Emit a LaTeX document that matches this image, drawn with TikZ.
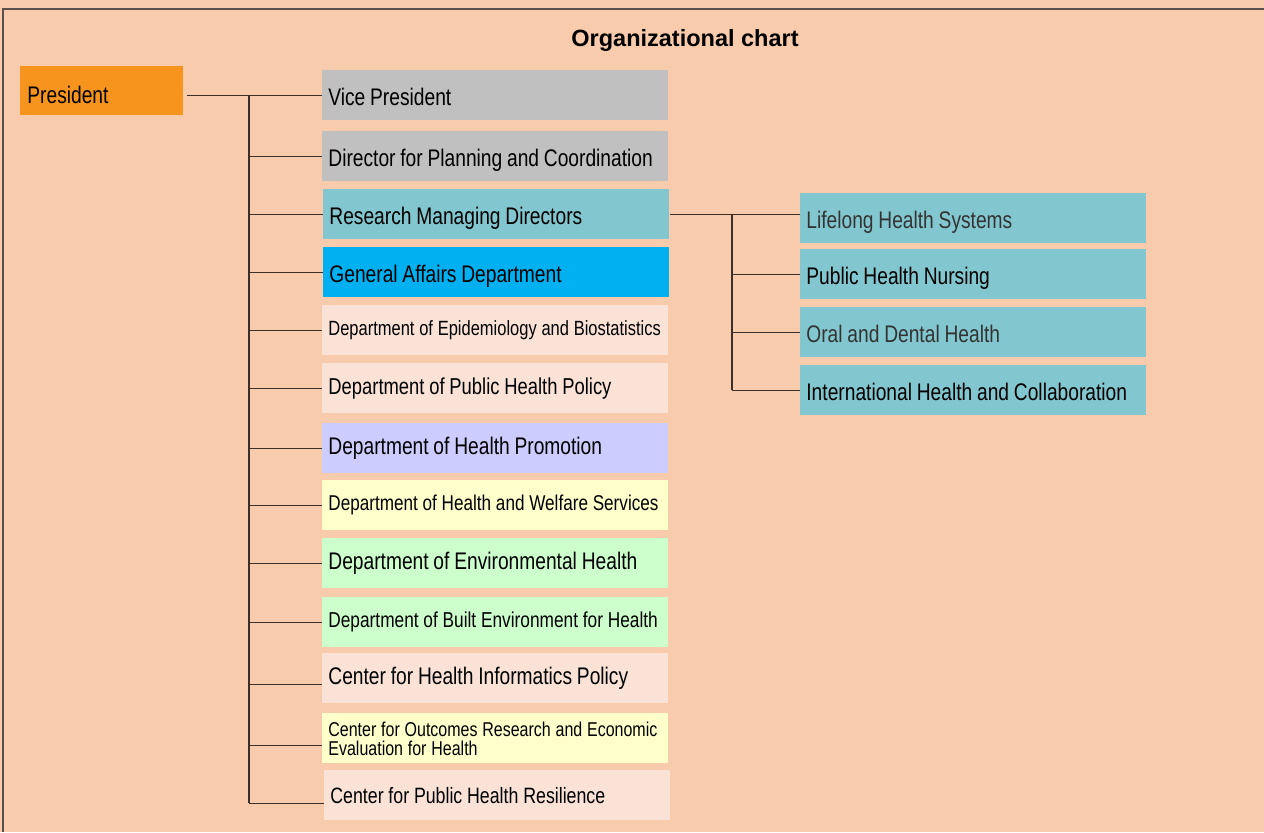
\documentclass[tikz,border=0pt]{standalone}
\usepackage{fontspec}
\setmainfont{Liberation Sans}[FakeStretch=0.8]
\newfontfamily\titrefont{Liberation Sans}
\usetikzlibrary{positioning}
\hyphenpenalty=10000
\exhyphenpenalty=10000

\begin{document}
\begin{tikzpicture}[x=0.5pt,y=-0.5pt,
        service/.style={anchor=north west, minimum height=25pt, text width=167pt,
            inner xsep=3pt, inner ysep=0pt, align=left, font=\fontsize{12}{12}\selectfont,
            execute at begin node={\spaceskip=2.4pt plus 1pt\relax}},
        ligne12/.style={text height=11pt, text depth=1pt},
        unite/.style={service, ligne12, fill=turquoise},
        trait/.style={draw=traitC, line width=0.7pt}]
        \definecolor{fond}{RGB}{248, 203, 173}
        \definecolor{cadre}{RGB}{90, 80, 75}
        \definecolor{traitC}{RGB}{60, 46, 40}
        \definecolor{orangeP}{RGB}{247, 148, 30}
        \definecolor{gris}{RGB}{192, 192, 192}
        \definecolor{turquoise}{RGB}{130, 199, 207}
        \definecolor{bleuGA}{RGB}{0, 176, 240}
        \definecolor{rosepale}{RGB}{250, 227, 214}
        \definecolor{lavande}{RGB}{204, 204, 255}
        \definecolor{jaune}{RGB}{255, 255, 204}
        \definecolor{vert}{RGB}{204, 255, 204}
        % fond et cadre
        \useasboundingbox (0,0) rectangle (1264,832);
        \fill[fond] (0,0) rectangle (1264,832);
        \draw[cadre, line width=0.8pt] (3,832) -- (3,9) -- (1264,9);
        \node[font=\titrefont\bfseries\fontsize{11.75}{12}\selectfont] (titre) at (685,40) {Organizational chart};
        % direction
        \node[service, fill=orangeP, text width=74.5pt, inner xsep=3.5pt, minimum height=24.5pt, text height=13pt, text depth=0pt] (pres) at (20,66) {President};
        \node[service, ligne12, fill=gris] (vp) at (322,70) {Vice President};
        \node[service, ligne12, fill=gris] (dir) at (322,131) {Director for Planning and Coordination};
        \node[service, ligne12, fill=turquoise] (rmd) at (323,189) {Research Managing Directors};
        \node[service, ligne12, fill=bleuGA] (gad) at (323,247) {General Affairs Department};
        \node[service, fill=rosepale, font=\fontsize{10.3}{12}\selectfont] (epi) at (322,305) {Department of Epidemiology and Biostatistics};
        \node[service, fill=rosepale, font=\fontsize{11.5}{12}\selectfont] (php) at (322,363) {Department of Public Health Policy};
        \node[service, fill=lavande] (hp) at (322,423) {Department of Health Promotion};
        \node[service, fill=jaune, font=\fontsize{10.7}{12}\selectfont] (hws) at (322,480) {Department of Health and Welfare Services};
        \node[service, fill=vert] (env) at (322,538) {Department of Environmental Health};
        \node[service, fill=vert, font=\fontsize{10.8}{12}\selectfont] (built) at (322,597) {Department of Built Environment for Health};
        \node[service, fill=rosepale] (info) at (322,653) {Center for Health Informatics Policy};
        \node[service, fill=jaune, font=\fontsize{10}{9.5}\selectfont] (core) at (322,713) {Center for Outcomes Research and Economic\\Evaluation for Health};
        \node[service, fill=rosepale, font=\fontsize{11.1}{12}\selectfont] (resil) at (324,770) {Center for Public Health Resilience};
        % unites de recherche
        \node[unite, text=black!80] (lhs) at (800,193) {Lifelong Health Systems};
        \node[unite] (phn) at (800,249) {Public Health Nursing};
        \node[unite, text=black!80] (odh) at (800,307) {Oral and Dental Health};
        \node[unite] (ihc) at (800,365) {International Health and Collaboration};
        % liaisons
        \coordinate (tronc) at (249,95);
        \coordinate (infoin) at ([yshift=-3pt]info.west);
        \coordinate (corein) at ([yshift=-3.5pt]core.west);
        \coordinate (resilin) at ([yshift=-4pt]resil.west);
        \draw[trait] ([xshift=1.5pt]pres.east |- vp.west) -- (vp.west);
        \draw[trait] (tronc) -- (tronc |- resilin);
        \draw[trait] (tronc |- dir.west) -- (dir.west);
        \draw[trait] (tronc |- rmd.west) -- (rmd.west);
        \draw[trait] (tronc |- gad.west) -- (gad.west);
        \draw[trait] (tronc |- epi.west) -- (epi.west);
        \draw[trait] (tronc |- php.west) -- (php.west);
        \draw[trait] (tronc |- hp.west) -- (hp.west);
        \draw[trait] (tronc |- hws.west) -- (hws.west);
        \draw[trait] (tronc |- env.west) -- (env.west);
        \draw[trait] (tronc |- built.west) -- (built.west);
        \draw[trait] (tronc |- infoin) -- (infoin);
        \draw[trait] (tronc |- corein) -- (corein);
        \draw[trait] (tronc |- resilin) -- (resilin);
        \coordinate (tronc2) at (732,215);
        \draw[trait] (rmd.east) -- (rmd.east -| lhs.west);
        \draw[trait] (tronc2 |- rmd.east) -- (tronc2 |- ihc.west);
        \draw[trait] (tronc2 |- phn.west) -- (phn.west);
        \draw[trait] (tronc2 |- odh.west) -- (odh.west);
        \draw[trait] (tronc2 |- ihc.west) -- (ihc.west);
    \end{tikzpicture}
\end{document}
